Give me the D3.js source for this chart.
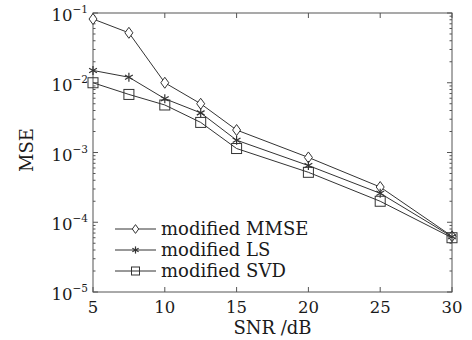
<!DOCTYPE html>
<html>
<head>
<meta charset="UTF-8">
<style>
  body { margin: 0; background: #fff; }
  text { font-family: "DejaVu Serif", "Liberation Serif", serif; fill: #1a1a1a; }
</style>
</head>
<body>
<svg width="472" height="340"></svg>
<script src="https://d3js.org/d3.v7.min.js"></script>
<script>
var snr = [5, 7.5, 10, 12.5, 15, 20, 25, 30];
var mmse = [0.082, 0.052, 0.0100, 0.0050, 0.0021, 0.00085, 0.00032, 0.000063];
var ls   = [0.0150, 0.0120, 0.0059, 0.0037, 0.0015, 0.00065, 0.00026, 0.000062];
var svd  = [0.0100, 0.0068, 0.0048, 0.0027, 0.00114, 0.00052, 0.00020, 0.000060];
var seriesNames = ["modified MMSE", "modified LS", "modified SVD"];
var xTicks = [5, 10, 15, 20, 25, 30];
var yExps = [-1, -2, -3, -4, -5];

var svg = d3.select("svg"),
    m = {left: 93, right: 20, top: 13, bottom: 48},
    w = 472 - m.left - m.right,
    h = 340 - m.top - m.bottom;

var x = d3.scaleLinear().domain([5, 30]).range([m.left, m.left + w]);
var y = d3.scaleLog().domain([1e-5, 1e-1]).range([m.top + h, m.top]);

var axisColor = "#555";

// frame
svg.append("rect").attr("x", m.left).attr("y", m.top).attr("width", w).attr("height", h)
    .attr("fill", "none").attr("stroke", axisColor).attr("stroke-width", 1);

// minor log ticks
var minor = [];
for (var e = -5; e < -1; e++) {
    for (var k = 1; k < 10; k++) minor.push(k * Math.pow(10, e));
}
minor.push(0.1);
minor.forEach(function (v) {
    var major = Math.abs(Math.log10(v) - Math.round(Math.log10(v))) < 1e-9;
    var len = major ? 5 : 2.5;
    svg.append("line").attr("x1", m.left).attr("x2", m.left + len)
        .attr("y1", y(v)).attr("y2", y(v)).attr("stroke", axisColor);
    svg.append("line").attr("x1", m.left + w).attr("x2", m.left + w - len)
        .attr("y1", y(v)).attr("y2", y(v)).attr("stroke", axisColor);
});

// x ticks, bottom and top, pointing in
xTicks.forEach(function (t) {
    svg.append("line").attr("x1", x(t)).attr("x2", x(t))
        .attr("y1", m.top + h).attr("y2", m.top + h - 5).attr("stroke", axisColor);
    svg.append("line").attr("x1", x(t)).attr("x2", x(t))
        .attr("y1", m.top).attr("y2", m.top + 5).attr("stroke", axisColor);
    svg.append("text").attr("x", x(t)).attr("y", m.top + h + 21)
        .attr("text-anchor", "middle").attr("font-size", 16.5).text(t);
});

// y tick labels 10^n
yExps.forEach(function (p) {
    var t = svg.append("text").attr("x", m.left - 5).attr("y", y(Math.pow(10, p)) + 8)
        .attr("text-anchor", "end").attr("font-size", 16.5);
    t.append("tspan").text("10");
    t.append("tspan").attr("dy", -8).attr("font-size", 10.5).text("\u2212" + Math.abs(p));
});

// axis labels
svg.append("text").attr("x", x(17.5)).attr("y", 334).attr("text-anchor", "middle")
    .attr("font-size", 18).text("SNR /dB");
svg.append("text").attr("transform", "translate(33,150) rotate(-90)")
    .attr("text-anchor", "middle").attr("font-size", 18).text("MSE");

var line = d3.line().x(function (d) { return x(d[0]); }).y(function (d) { return y(d[1]); });
var data = [mmse, ls, svd];
var lineColor = "#333";

function marker(g, kind, cx, cy, s) {
    if (kind === 0) {
        g.append("path").attr("d", "M" + cx + "," + (cy - 5.5 * s) + "L" + (cx + 4 * s) + "," + cy +
            "L" + cx + "," + (cy + 5.5 * s) + "L" + (cx - 4 * s) + "," + cy + "Z")
            .attr("fill", "#fff").attr("stroke", lineColor);
    } else if (kind === 1) {
        var r = 4.5 * s;
        [0, 60, 120].forEach(function (a) {
            var rad = a * Math.PI / 180;
            g.append("line").attr("x1", cx - r * Math.sin(rad)).attr("y1", cy - r * Math.cos(rad))
                .attr("x2", cx + r * Math.sin(rad)).attr("y2", cy + r * Math.cos(rad))
                .attr("stroke", lineColor).attr("stroke-width", 1.2);
        });
    } else {
        g.append("rect").attr("x", cx - 5 * s).attr("y", cy - 5 * s).attr("width", 10 * s).attr("height", 10 * s)
            .attr("fill", "none").attr("stroke", lineColor);
    }
}

data.forEach(function (vals, i) {
    var pts = snr.map(function (s, j) { return [s, vals[j]]; });
    svg.append("path").datum(pts).attr("d", line).attr("fill", "none")
        .attr("stroke", lineColor).attr("stroke-width", 1);
    var g = svg.append("g");
    pts.forEach(function (p) { marker(g, i, x(p[0]), y(p[1]), 1); });
});

// legend
seriesNames.forEach(function (name, i) {
    var ly = 229 + i * 21;
    svg.append("line").attr("x1", 115).attr("x2", 156).attr("y1", ly).attr("y2", ly)
        .attr("stroke", lineColor);
    var g = svg.append("g");
    marker(g, i, 135.5, ly, 0.8);
    svg.append("text").attr("x", 161).attr("y", ly + 6).attr("font-size", 18).text(name);
});
</script>
</body>
</html>
